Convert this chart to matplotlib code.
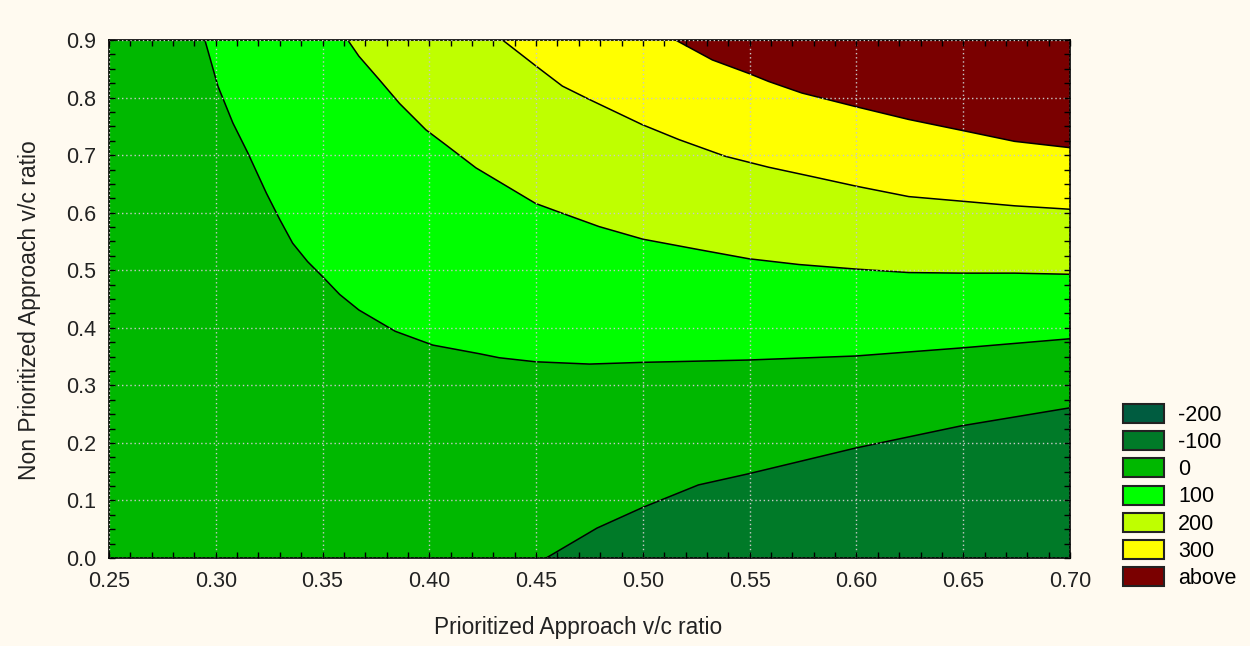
import numpy as np
import matplotlib.pyplot as plt
from matplotlib.patches import Patch
from matplotlib.ticker import MultipleLocator

# contour boundaries (x = prioritized v/c, y = non prioritized v/c)
b0_x = [0.2949, 0.301, 0.308, 0.315, 0.3237, 0.330, 0.336, 0.343, 0.350, 0.358, 0.367, 0.384, 0.4016,
        0.4234, 0.4327, 0.4497, 0.475, 0.500, 0.549, 0.5995, 0.649, 0.700]
b0_y = [0.900, 0.820, 0.756, 0.704, 0.634, 0.588, 0.547, 0.515, 0.489, 0.458, 0.431, 0.394, 0.370,
        0.355, 0.348, 0.341, 0.337, 0.340, 0.344, 0.351, 0.365, 0.381]

b100_x = [0.3618, 0.367, 0.3766, 0.386, 0.3984, 0.4077, 0.4218, 0.4498, 0.4623, 0.4794,
          0.500, 0.526, 0.5496, 0.573, 0.600, 0.6245, 0.6494, 0.674, 0.700]
b100_y = [0.900, 0.872, 0.831, 0.790, 0.744, 0.718, 0.678, 0.616, 0.599, 0.576,
          0.554, 0.536, 0.520, 0.510, 0.502, 0.496, 0.495, 0.495, 0.493]

b200_x = [0.4343, 0.4499, 0.4623, 0.4748, 0.4997, 0.5169, 0.5386, 0.5589, 0.579, 0.600,
          0.6245, 0.6494, 0.674, 0.700]
b200_y = [0.900, 0.855, 0.820, 0.797, 0.753, 0.727, 0.698, 0.679, 0.663, 0.646,
          0.628, 0.620, 0.612, 0.606]

b300_x = [0.5153, 0.5325, 0.5496, 0.5589, 0.5744, 0.600, 0.6245, 0.6494, 0.674, 0.700]
b300_y = [0.900, 0.8655, 0.842, 0.828, 0.808, 0.784, 0.762, 0.743, 0.724, 0.713]

bneg_x = [0.4547, 0.4785, 0.500, 0.526, 0.549, 0.5995, 0.649, 0.700]
bneg_y = [0.000, 0.052, 0.088, 0.127, 0.146, 0.191, 0.2296, 0.261]

levels = ['-200', '-100', '0', '100', '200', '300', 'above']
colors = ['#005c40', '#007a28', '#00b800', '#00ff00', '#bfff00', '#ffff00', '#7a0000']

x_min, x_max, y_min, y_max = 0.25, 0.70, 0.0, 0.9

plt.rcParams['font.family'] = ['Liberation Sans', 'DejaVu Sans']
bg = '#fffaf0'

fig = plt.figure(figsize=(12.5, 6.46), dpi=100, facecolor=bg)
ax = fig.add_axes([0.0872, 0.1362, 0.7688, 0.8018])

# base level fills the whole plot area
ax.fill([x_min, x_max, x_max, x_min], [y_min, y_min, y_max, y_max], color=colors[2], lw=0)

# higher levels stacked toward the top right corner
for bx, by, c in [(b0_x, b0_y, colors[3]), (b100_x, b100_y, colors[4]),
                  (b200_x, b200_y, colors[5]), (b300_x, b300_y, colors[6])]:
    ax.fill(bx + [x_max], by + [y_max], color=c, lw=0)
# negative pocket in the bottom right corner
ax.fill(bneg_x + [x_max], bneg_y + [y_min], color=colors[1], lw=0)

for bx, by in [(b0_x, b0_y), (b100_x, b100_y), (b200_x, b200_y), (b300_x, b300_y), (bneg_x, bneg_y)]:
    ax.plot(bx, by, color='black', lw=1.1)

ax.set_xlim(x_min, x_max)
ax.set_ylim(y_min, y_max)
ax.xaxis.set_major_locator(MultipleLocator(0.05))
ax.yaxis.set_major_locator(MultipleLocator(0.1))
ax.xaxis.set_minor_locator(MultipleLocator(0.01))
ax.yaxis.set_minor_locator(MultipleLocator(0.025))
ax.xaxis.set_major_formatter(lambda v, p: f'{v:.2f}')
ax.yaxis.set_major_formatter(lambda v, p: f'{v:.1f}')
ax.tick_params(which='both', direction='in', top=True, right=True, length=4, width=1, colors='black')
ax.tick_params(axis='x', labelsize=15.5, pad=9, labelcolor='#222222')
ax.tick_params(axis='y', labelsize=15.5, pad=9, labelcolor='#222222')
ax.grid(True, which='major', color='#c8c8c8', linestyle=(0, (1, 2)), lw=1)
ax.set_axisbelow(False)
for s in ax.spines.values():
    s.set_linewidth(1.2)

fig.text(0.4625, 0.028, 'Prioritized Approach v/c ratio', ha='center', va='center', fontsize=16.3, color='#222222')
fig.text(0.024, 0.52, 'Non Prioritized Approach v/c ratio', ha='center', va='center', rotation=90,
         fontsize=16.5, color='#222222')

handles = [Patch(facecolor=c, edgecolor='#222222', lw=1.5) for c in colors]
fig.legend(handles, levels, loc='upper left', bbox_to_anchor=(0.8984, 0.375), frameon=False,
           fontsize=15.5, handlelength=1.9, handleheight=0.98, labelspacing=0.25, handletextpad=0.65,
           borderpad=0, borderaxespad=0)

fig.savefig('out.png', dpi=100, facecolor=bg)
